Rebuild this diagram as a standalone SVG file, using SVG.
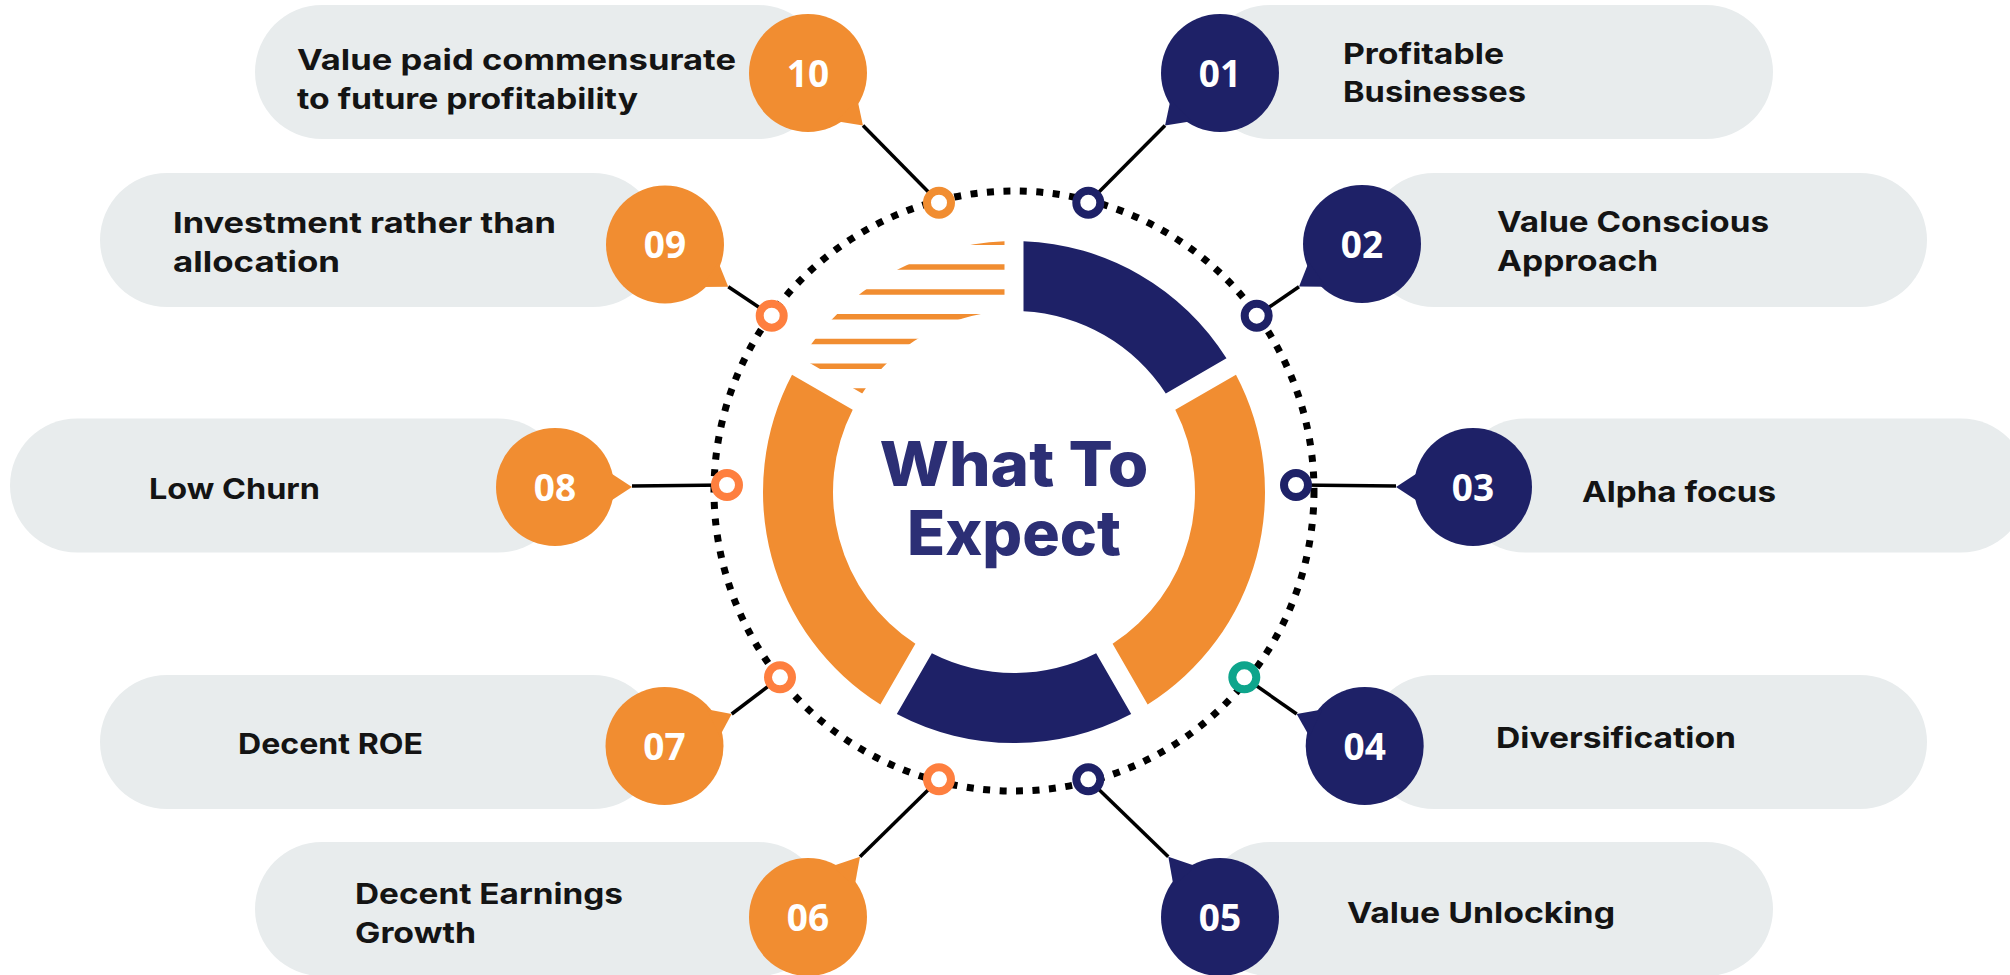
<svg xmlns="http://www.w3.org/2000/svg" width="2010" height="975" viewBox="0 0 2010 975">
<style>
.pill{fill:#E8ECED}
.org{fill:#F18D31}
.nvy{fill:#1E2167}
.num{font-family:"Open Sans","Noto Sans",sans-serif;font-weight:700;font-size:37px;fill:#FFFFFF;text-anchor:middle}
.lbl{font-family:Inter,"Liberation Sans",sans-serif;font-weight:700;font-size:28.5px;fill:#141414}
.title{font-family:Inter,"Liberation Sans",sans-serif;font-weight:800;font-size:62px;fill:#2C2F75;text-anchor:middle}
.conn{stroke:#000000;stroke-width:3.5;fill:none}
.ring{fill:#FFFFFF;stroke-width:8}
.stripe{stroke:#F18D31;stroke-width:5.5}
</style>
<defs>
<clipPath id="stripeClip">
<path d="M801.52 358.37 A251 251 0 0 1 1004.5 241.18 L1004.5 311.25 A181 181 0 0 0 862.21 393.4 Z"/>
</clipPath>
</defs>
<rect width="2010" height="975" fill="#FFFFFF"/>

<g id="donut">
<path class="nvy" d="M1023.5 241.18 A251 251 0 0 1 1226.48 358.37 L1165.79 393.4 A181 181 0 0 0 1023.5 311.25 Z"/>
<path class="org" d="M1235.97 374.82 A251 251 0 0 1 1147.63 704.48 L1112.6 643.79 A181 181 0 0 0 1175.28 409.85 Z"/>
<path class="nvy" d="M1131.18 713.97 A251 251 0 0 1 896.82 713.97 L931.85 653.28 A181 181 0 0 0 1096.15 653.28 Z"/>
<path class="org" d="M880.37 704.48 A251 251 0 0 1 792.03 374.82 L852.72 409.85 A181 181 0 0 0 915.4 643.79 Z"/>
<g clip-path="url(#stripeClip)">
<line class="stripe" x1="780" y1="242.3" x2="1010" y2="242.3"/>
<line class="stripe" x1="780" y1="267.1" x2="1010" y2="267.1"/>
<line class="stripe" x1="780" y1="291.9" x2="1010" y2="291.9"/>
<line class="stripe" x1="780" y1="316.7" x2="1010" y2="316.7"/>
<line class="stripe" x1="780" y1="341.5" x2="1010" y2="341.5"/>
<line class="stripe" x1="780" y1="366.3" x2="1010" y2="366.3"/>
<line class="stripe" x1="780" y1="391.1" x2="1010" y2="391.1"/>
</g>
<text class="title" x="1014" y="486" textLength="269" lengthAdjust="spacingAndGlyphs">What To</text>
<text class="title" x="1014" y="555" textLength="214" lengthAdjust="spacingAndGlyphs">Expect</text>
</g>

<circle id="dotted-ring" cx="1014" cy="491" r="300" fill="none" stroke="#000000" stroke-width="7" stroke-dasharray="7 9.5"/>

<g id="node-10">
<rect class="pill" x="255" y="5" width="570" height="134" rx="67"/>
<g transform="translate(808,73)">
<circle class="org" r="59"/>
<polygon class="org" transform="rotate(43.7)" points="54,-15 76,0 54,15"/>
<text class="num" x="0" y="13.5">10</text>
</g>
<text class="lbl" x="297" y="70" textLength="439" lengthAdjust="spacingAndGlyphs">Value paid commensurate</text>
<text class="lbl" x="297" y="109" textLength="341" lengthAdjust="spacingAndGlyphs">to future profitability</text>
</g>

<g id="node-01">
<rect class="pill" x="1203" y="5" width="570" height="134" rx="67"/>
<g transform="translate(1220,73)">
<circle class="nvy" r="59"/>
<polygon class="nvy" transform="rotate(136.3)" points="54,-15 76,0 54,15"/>
<text class="num" x="0" y="13.5">01</text>
</g>
<text class="lbl" x="1343" y="63.5" textLength="161" lengthAdjust="spacingAndGlyphs">Profitable</text>
<text class="lbl" x="1343" y="102" textLength="183" lengthAdjust="spacingAndGlyphs">Businesses</text>
</g>

<g id="node-09">
<rect class="pill" x="100" y="173" width="560" height="134" rx="67"/>
<g transform="translate(665,244.5)">
<circle class="org" r="59"/>
<polygon class="org" transform="rotate(33.7)" points="54,-15 76,0 54,15"/>
<text class="num" x="0" y="13.5">09</text>
</g>
<text class="lbl" x="173" y="233" textLength="383" lengthAdjust="spacingAndGlyphs">Investment rather than</text>
<text class="lbl" x="173" y="272" textLength="167" lengthAdjust="spacingAndGlyphs">allocation</text>
</g>

<g id="node-02">
<rect class="pill" x="1367" y="173" width="560" height="134" rx="67"/>
<g transform="translate(1362,244)">
<circle class="nvy" r="59"/>
<polygon class="nvy" transform="rotate(145.9)" points="54,-15 76,0 54,15"/>
<text class="num" x="0" y="13.5">02</text>
</g>
<text class="lbl" x="1497" y="231.7" textLength="272" lengthAdjust="spacingAndGlyphs">Value Conscious</text>
<text class="lbl" x="1497" y="270.7" textLength="161" lengthAdjust="spacingAndGlyphs">Approach</text>
</g>

<g id="node-08">
<rect class="pill" x="10" y="418.5" width="555" height="134" rx="67"/>
<g transform="translate(555,487)">
<circle class="org" r="59"/>
<polygon class="org" points="54,-15 77,0 54,15"/>
<text class="num" x="0" y="13.5">08</text>
</g>
<text class="lbl" x="149" y="499.3" textLength="171" lengthAdjust="spacingAndGlyphs">Low Churn</text>
</g>

<g id="node-03">
<rect class="pill" x="1458" y="418.5" width="570" height="134" rx="67"/>
<g transform="translate(1473,487)">
<circle class="nvy" r="59"/>
<polygon class="nvy" transform="rotate(180)" points="54,-15 77,0 54,15"/>
<text class="num" x="0" y="13.5">03</text>
</g>
<text class="lbl" x="1582" y="501.7" textLength="194" lengthAdjust="spacingAndGlyphs">Alpha focus</text>
</g>

<g id="node-07">
<rect class="pill" x="100" y="675" width="560" height="134" rx="67"/>
<g transform="translate(664.5,746)">
<circle class="org" r="59"/>
<polygon class="org" transform="rotate(-25.5)" points="54,-15 74.4,0 54,15"/>
<text class="num" x="0" y="13.5">07</text>
</g>
<text class="lbl" x="238" y="754" textLength="185" lengthAdjust="spacingAndGlyphs">Decent ROE</text>
</g>

<g id="node-04">
<rect class="pill" x="1367" y="675" width="560" height="134" rx="67"/>
<g transform="translate(1364.7,746)">
<circle class="nvy" r="59"/>
<polygon class="nvy" transform="rotate(205.2)" points="54,-15 75.2,0 54,15"/>
<text class="num" x="0" y="13.5">04</text>
</g>
<text class="lbl" x="1496" y="748" textLength="240" lengthAdjust="spacingAndGlyphs">Diversification</text>
</g>

<g id="node-06">
<rect class="pill" x="255" y="842" width="570" height="134" rx="67"/>
<g transform="translate(808,917)">
<circle class="org" r="59"/>
<polygon class="org" transform="rotate(-49.2)" points="54,-15 79.6,0 54,15"/>
<text class="num" x="0" y="13.5">06</text>
</g>
<text class="lbl" x="355" y="904" textLength="268" lengthAdjust="spacingAndGlyphs">Decent Earnings</text>
<text class="lbl" x="355" y="943" textLength="121" lengthAdjust="spacingAndGlyphs">Growth</text>
</g>

<g id="node-05">
<rect class="pill" x="1203" y="842" width="570" height="134" rx="67"/>
<g transform="translate(1220,917)">
<circle class="nvy" r="59"/>
<polygon class="nvy" transform="rotate(229.4)" points="54,-15 79.4,0 54,15"/>
<text class="num" x="0" y="13.5">05</text>
</g>
<text class="lbl" x="1347" y="923" textLength="268" lengthAdjust="spacingAndGlyphs">Value Unlocking</text>
</g>

<g id="connectors">
<line class="conn" x1="863" y1="125.5" x2="939" y2="202.7"/>
<line class="conn" x1="1165" y1="125.5" x2="1088.3" y2="202.7"/>
<line class="conn" x1="728.3" y1="286.7" x2="771.7" y2="315.7"/>
<line class="conn" x1="1299" y1="286.7" x2="1256.7" y2="315.7"/>
<line class="conn" x1="632" y1="486" x2="727" y2="485"/>
<line class="conn" x1="1396" y1="486" x2="1296" y2="485"/>
<line class="conn" x1="731.7" y1="714" x2="780" y2="677.3"/>
<line class="conn" x1="1296.7" y1="714" x2="1244.3" y2="677.3"/>
<line class="conn" x1="860" y1="856.7" x2="939" y2="779.3"/>
<line class="conn" x1="1168.3" y1="856.7" x2="1088.3" y2="779.3"/>
<circle class="ring" cx="939" cy="202.7" r="12" stroke="#F18D31"/>
<circle class="ring" cx="1088.3" cy="202.7" r="12" stroke="#1E2167"/>
<circle class="ring" cx="771.7" cy="315.7" r="12" stroke="#FE7F3F"/>
<circle class="ring" cx="1256.7" cy="315.7" r="12" stroke="#1E2167"/>
<circle class="ring" cx="727" cy="485" r="12" stroke="#FE7F3F"/>
<circle class="ring" cx="1296" cy="485" r="12" stroke="#1E2167"/>
<circle class="ring" cx="780" cy="677.3" r="12" stroke="#FE7F3F"/>
<circle class="ring" cx="1244.3" cy="677.3" r="12" stroke="#0EA58C"/>
<circle class="ring" cx="939" cy="779.3" r="12" stroke="#FE7F3F"/>
<circle class="ring" cx="1088.3" cy="779.3" r="12" stroke="#1E2167"/>
</g>
</svg>
